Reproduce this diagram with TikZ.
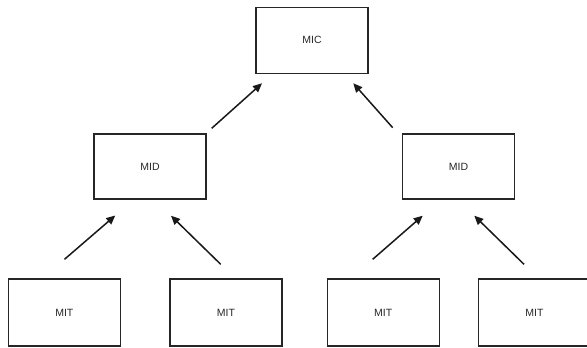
\documentclass[tikz,border=0pt]{standalone}
\usepackage{fontspec}
\setmainfont{Liberation Sans}
\usetikzlibrary{arrows.meta}
\begin{document}
\begin{tikzpicture}[x=1pt,y=-1pt,
  box/.style={draw=black!85, line width=1.1pt, minimum width=112pt, minimum height=66pt, inner sep=0pt, font=\fontsize{10.5}{12}\selectfont, text=black!85},
  conn/.style={draw=black!90, line width=1.5pt, -{Triangle[length=9pt,width=8pt]}}]
\useasboundingbox (0,0) rectangle (587,348);
\node[box] (mic) at (312,40.3) {MIC};
\node[box, minimum height=65pt] (midl) at (150,166.5) {MID};
\node[box, minimum height=65pt] (midr) at (458.5,166.5) {MID};
\node[box, minimum height=67pt] (mit1) at (64.3,312.5) {MIT};
\node[box, minimum height=67pt] (mit2) at (226,312.5) {MIT};
\node[box, minimum height=67pt] (mit3) at (383.2,312.5) {MIT};
\node[box, minimum height=67pt] (mit4) at (534.5,312.5) {MIT};
% arrow endpoints
\coordinate (a1s) at (211.7,128.3); \coordinate (a1t) at (262,83.3);
\coordinate (a2s) at (392.7,127.7); \coordinate (a2t) at (353.3,83.3);
\coordinate (a3s) at (64.5,259.3);  \coordinate (a3t) at (115.3,215.5);
\coordinate (a4s) at (220.7,264.3); \coordinate (a4t) at (171,215.7);
\coordinate (a5s) at (372.7,259.3); \coordinate (a5t) at (422.7,215.7);
\coordinate (a6s) at (524,264.3);   \coordinate (a6t) at (474.3,215.7);
\draw[conn] (a1s) -- (a1t);
\draw[conn] (a2s) -- (a2t);
\draw[conn] (a3s) -- (a3t);
\draw[conn] (a4s) -- (a4t);
\draw[conn] (a5s) -- (a5t);
\draw[conn] (a6s) -- (a6t);
\end{tikzpicture}
\end{document}
